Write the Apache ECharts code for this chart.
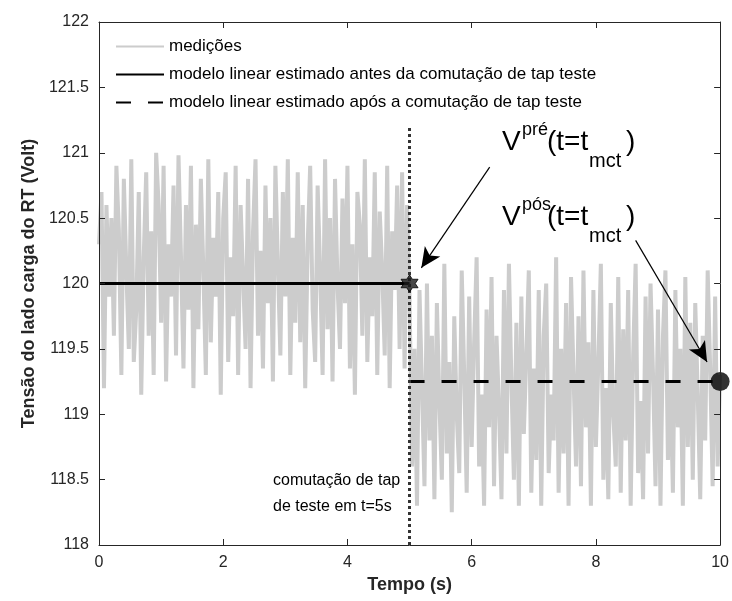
<!DOCTYPE html>
<html>
<head>
<meta charset="utf-8">
<script src="https://cdn.jsdelivr.net/npm/echarts@6/dist/echarts.min.js"></script>
<style>
  html, body { margin: 0; padding: 0; background: #fff; }
  #chart { width: 732px; height: 601px; }
</style>
</head>
<body>
<div id="chart"></div>
<script>
// amostragem das medições (s)
var dt = 0.04;
var tInicioAntes = 0;
var tInicioApos = 5;

// medições antes da comutação (t = 0 ... 4.96)
var medAntes = [
  120.3, 120.7, 119.2, 120.6, 119.9, 120.5, 119.6, 120.9, 120.4, 119.3,
  120.8, 120.1, 119.5, 120.95, 119.4, 119.8, 120.7, 119.15, 120.2, 120.85,
  119.6, 120.4, 119.3, 121.0, 120.6, 119.7, 120.9, 119.25, 120.3, 119.9,
  120.75, 119.45, 120.98, 120.2, 119.35, 120.6, 119.8, 120.9, 119.2, 120.45,
  119.65, 120.8, 120.1, 119.3, 120.95, 119.55, 120.35, 119.9, 120.7, 119.15,
  120.5, 120.85, 119.4, 120.2, 119.75, 120.9, 119.3, 120.6, 120.05, 119.5,
  120.8, 119.2, 120.4, 120.95, 119.6, 120.25, 119.35, 120.75, 119.85, 120.5,
  119.25, 120.9, 120.15, 119.45, 120.7, 119.9, 120.95, 119.3, 120.35, 119.7,
  120.85, 119.55, 120.6, 119.2, 120.3, 120.9, 119.8, 119.4, 120.75, 120.1,
  119.3, 120.95, 119.65, 120.5, 119.25, 120.8, 120.0, 119.5, 120.65, 119.85,
  120.9, 119.35, 120.3, 119.15, 120.7, 120.45, 119.6, 120.95, 119.4, 120.2,
  119.75, 120.85, 119.3, 120.55, 120.1, 119.45, 120.9, 119.2, 120.4, 119.95,
  120.75, 119.5, 120.85, 119.35, 120.6
];
// medições após a comutação (t = 5 ... 10)
var medApos = [
  119.9, 118.6, 119.5, 118.3, 119.95, 119.2, 118.45, 120.0, 118.8, 119.6,
  118.35, 119.85, 119.1, 118.5, 120.15, 118.7, 119.4, 118.25, 119.75, 119.0,
  118.55, 120.1, 119.3, 118.4, 119.9, 118.75, 119.55, 120.2, 118.6, 119.15,
  118.3, 119.8, 118.9, 120.05, 118.45, 119.6, 119.05, 118.35, 119.95, 118.7,
  120.15, 119.25, 118.5, 119.7, 118.3, 119.9, 118.85, 119.45, 120.1, 118.4,
  119.35, 118.65, 119.95, 118.3, 119.6, 120.0, 118.55, 119.15, 118.8, 120.2,
  118.4, 119.5, 118.7, 119.85, 118.3, 120.05, 119.3, 118.6, 119.75, 118.45,
  120.1, 118.9, 119.55, 118.3, 119.95, 118.75, 119.4, 120.15, 118.5, 119.2,
  118.35, 119.85, 119.0, 118.6, 120.05, 118.4, 119.65, 118.8, 119.95, 118.3,
  119.45, 120.15, 118.55, 119.1, 118.35, 119.9, 118.7, 120.0, 119.3, 118.45,
  119.8, 118.3, 119.6, 120.1, 118.65, 119.25, 118.4, 119.95, 118.9, 119.5,
  118.3, 120.05, 118.75, 119.7, 118.5, 119.85, 119.15, 118.35, 119.6, 118.8,
  120.1, 119.35, 118.45, 119.9, 118.6, 119.3
];

// modelos lineares estimados
var tModeloAntes = [0, 5];
var vModeloAntes = [120, 120];
var tModeloApos = [5, 10];
var vModeloApos = [119.25, 119.25];

// pontos V pré / V pós
var tComutacao = 5;
var vPre = 120;
var tFinal = 10;
var vPos = 119.25;

var xTicks = [0, 2, 4, 6, 8, 10];
var yTicks = [118, 118.5, 119, 119.5, 120, 120.5, 121, 121.5, 122];

var nomes = [
  'medições',
  'modelo linear estimado antes da comutação de tap teste',
  'modelo linear estimado após a comutação de tap teste'
];

var medicoes = [];
medAntes.forEach(function (v, i) { medicoes.push([tInicioAntes + i * dt, v]); });
medApos.forEach(function (v, i) { medicoes.push([tInicioApos + i * dt, v]); });

var fonte = '"Liberation Sans", Arial, Helvetica, sans-serif';
var corEixo = '#262626';

var eixoX = function (pos, labels) {
  return {
    type: 'value', position: pos, min: xTicks[0], max: xTicks[xTicks.length - 1],
    interval: xTicks[1] - xTicks[0], z: 12,
    axisLine: {show: true, onZero: false, lineStyle: {color: corEixo, width: 1}},
    axisTick: {show: true, inside: true, length: 6, lineStyle: {color: corEixo}},
    axisLabel: {show: labels, color: corEixo, fontSize: 16, fontFamily: fonte, margin: 10},
    splitLine: {show: false}
  };
};
var eixoY = function (pos, labels) {
  return {
    type: 'value', position: pos, min: yTicks[0], max: yTicks[yTicks.length - 1],
    interval: yTicks[1] - yTicks[0], z: 12,
    axisLine: {show: true, onZero: false, lineStyle: {color: corEixo, width: 1}},
    axisTick: {show: true, inside: true, length: 6, lineStyle: {color: corEixo}},
    axisLabel: {show: labels, color: corEixo, fontSize: 16, fontFamily: fonte, margin: 10},
    splitLine: {show: false}
  };
};

var xPrincipal = eixoX('bottom', true);
xPrincipal.name = 'Tempo (s)';
xPrincipal.nameLocation = 'middle';
xPrincipal.nameGap = 24;
xPrincipal.nameTextStyle = {fontSize: 18, fontWeight: 'bold', color: corEixo, fontFamily: fonte};

var yPrincipal = eixoY('left', true);
yPrincipal.name = 'Tensão do lado carga do RT (Volt)';
yPrincipal.nameLocation = 'middle';
yPrincipal.nameGap = 58;
yPrincipal.nameTextStyle = {fontSize: 18, fontWeight: 'bold', color: corEixo, fontFamily: fonte};

var estrela = 'path://M0,-10 L2.9,-5 L8.66,-5 L5.8,0 L8.66,5 L2.9,5 L0,10 L-2.9,5 L-8.66,5 L-5.8,0 L-8.66,-5 L-2.9,-5 Z';

var txt = function (s, x, y, size) {
  return {
    type: 'text', x: x, y: y, z: 100,
    style: {text: s, fontSize: size, fontFamily: fonte, fill: '#000', verticalAlign: 'middle', align: 'left'}
  };
};

var option = {
  animation: false,
  backgroundColor: '#fff',
  grid: {left: 99, right: 9, top: 22, bottom: 56, containLabel: false},
  xAxis: [xPrincipal, eixoX('top', false)],
  yAxis: [yPrincipal, eixoY('right', false)],
  legend: {
    data: nomes,
    orient: 'vertical',
    left: 109, top: 23, z: 10,
    padding: [15, 10, 14, 6],
    backgroundColor: '#ffffff',
    itemWidth: 48, itemHeight: 14, itemGap: 11,
    itemStyle: {opacity: 0},
    textStyle: {fontSize: 17, fontFamily: fonte, color: '#000'}
  },
  series: [
    {
      name: nomes[0], type: 'line', data: medicoes, symbol: 'none',
      lineStyle: {color: '#cccccc', width: 4}, itemStyle: {color: '#cccccc'}, z: 1
    },
    {
      name: nomes[1], type: 'line', symbol: 'none',
      data: tModeloAntes.map(function (t, i) { return [t, vModeloAntes[i]]; }),
      lineStyle: {color: '#000', width: 3}, itemStyle: {color: '#000'}, z: 3
    },
    {
      name: nomes[2], type: 'line', symbol: 'none',
      data: tModeloApos.map(function (t, i) { return [t, vModeloApos[i]]; }),
      lineStyle: {color: '#000', width: 3, type: [15, 17]}, itemStyle: {color: '#000'}, z: 3
    },
    {
      name: 'comutacao', type: 'line', data: [], z: 4,
      markLine: {
        silent: true, symbol: 'none', label: {show: false},
        lineStyle: {color: '#333', width: 3, type: [3, 3]},
        data: [{xAxis: tComutacao}]
      }
    },
    {
      name: 'setas', type: 'line', data: [], z: 6,
      markLine: {
        silent: true, symbol: ['none', 'arrow'], symbolSize: [14, 20], label: {show: false},
        lineStyle: {color: '#000', width: 1.2, type: 'solid'},
        data: [
          [{coord: [6.29, 120.89]}, {coord: [5.19, 120.12]}],
          [{coord: [8.64, 120.33]}, {coord: [9.79, 119.40]}]
        ]
      }
    },
    {
      name: 'Vpre', type: 'scatter', data: [[tComutacao, vPre]], symbol: estrela, symbolSize: 17,
      itemStyle: {color: '#1a1a1a', borderColor: '#000', borderWidth: 1}, z: 8, clip: false
    },
    {
      name: 'Vpos', type: 'scatter', data: [[tFinal, vPos]], symbol: 'circle', symbolSize: 19,
      itemStyle: {color: '#000'}, z: 8, clip: false
    }
  ],
  graphic: [
    txt('V', 502, 142, 28), txt('pré', 522, 130, 18), txt('(t=t', 547, 142, 28),
    txt('mct', 589, 161, 20), txt(')', 626, 142, 28),
    txt('V', 502, 217, 28), txt('pós', 522, 205, 18), txt('(t=t', 547, 217, 28),
    txt('mct', 589, 236, 20), txt(')', 626, 217, 28),
    txt('comutação de tap', 273, 481, 16),
    txt('de teste em t=5s', 273, 507, 16)
  ]
};

var chart = echarts.init(document.getElementById('chart'), null, {renderer: 'canvas'});
chart.setOption(option);
</script>
</body>
</html>
